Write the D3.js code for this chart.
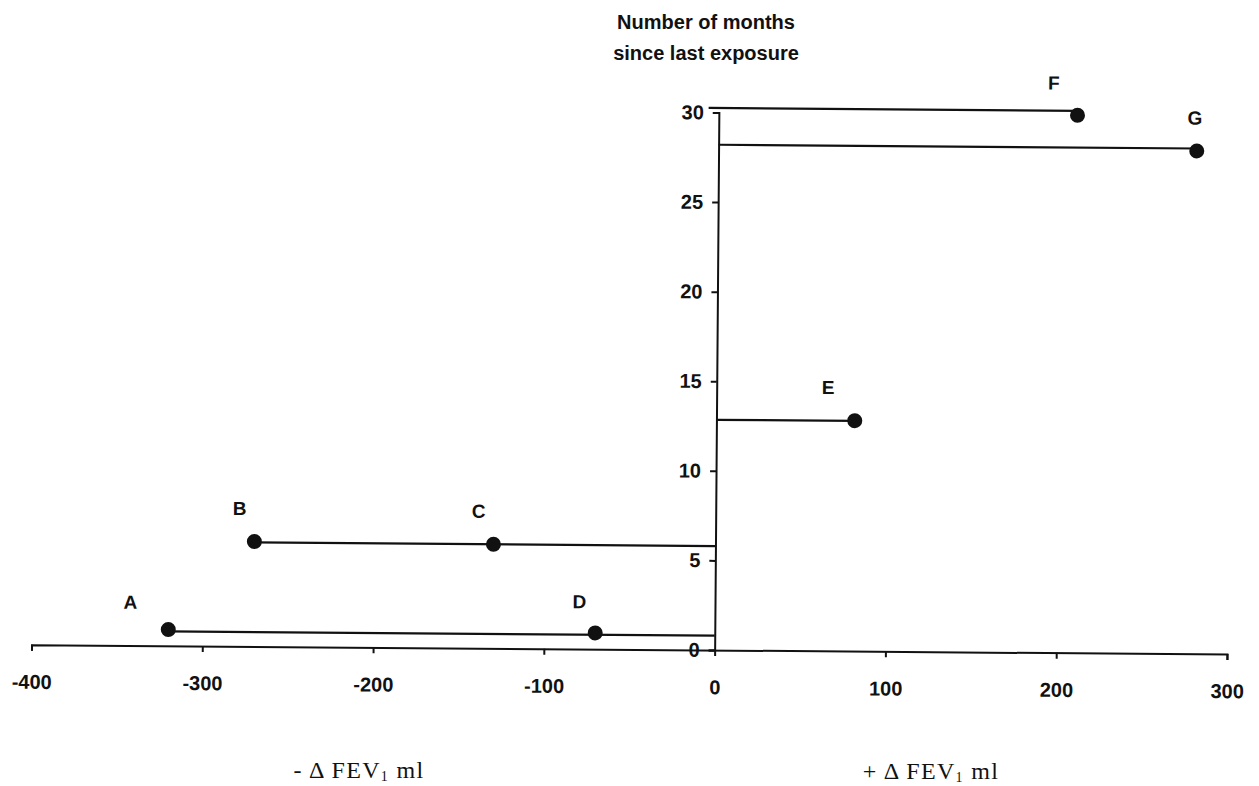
<!DOCTYPE html>
<html>
<head>
<meta charset="utf-8">
<script src="https://cdn.jsdelivr.net/npm/d3@7"></script>
<style>
  html, body { margin: 0; padding: 0; background: #fff; }
  svg { display: block; }
  .tick text { font-family: "Liberation Sans", Arial, sans-serif; font-weight: bold; font-size: 20px; fill: #111; }
</style>
</head>
<body>
<svg id="chart" width="1259" height="786"></svg>
<script>
// ---- data ----
const xTicks = [-400, -300, -200, -100, 0, 100, 200, 300];
const yTicks = [0, 5, 10, 15, 20, 25, 30];
const pointLabels = ["A", "B", "C", "D", "E", "F", "G"];
const pointDelta  = [-320, -270, -130, -70, 81, 210, 280];      // Δ FEV1 ml
const pointMonths = [0.9, 5.85, 5.8, 0.9, 12.86, 30.0, 28.06];  // months since last exposure
const segFrom   = [0, 0, 0, -6, 0];
const segTo     = [-320, -270, 81, 210, 280];
const segMonths = [0.8, 5.8, 12.85, 30.25, 28.2];
const titleLines = ["Number of months", "since last exposure"];

// ---- layout (pixels) ----
const labelDx = [-38, -15, -15, -16, -27, -24, -2];
const labelDy = [-27, -33, -33, -31, -33, -32, -33];

const svg = d3.select("#chart");
const x = d3.scaleLinear().domain([-400, 300]).range([31.5, 1227]);
const y = d3.scaleLinear().domain([0, 30]).range([650, 112.5]);
const fmt = d => String(d);

// slight scan tilt
const g = svg.append("g").attr("transform", "rotate(0.45," + x(0) + "," + y(0) + ")");

const xAxis = g.append("g")
  .attr("transform", "translate(0," + y(0) + ")")
  .call(d3.axisBottom(x).tickValues(xTicks).tickSize(6).tickPadding(24).tickFormat(fmt));
const yAxis = g.append("g")
  .attr("transform", "translate(" + x(0) + ",0)")
  .call(d3.axisLeft(y).tickValues(yTicks).tickSize(6).tickPadding(9).tickFormat(fmt));
[xAxis, yAxis].forEach(a => {
  a.select(".domain").attr("stroke", "#111").attr("stroke-width", 2);
  a.selectAll(".tick line").attr("stroke", "#111").attr("stroke-width", 2);
});

// horizontal segments
g.selectAll("line.seg").data(segTo.map((t, i) => ({ from: segFrom[i], to: t, m: segMonths[i] })))
  .enter().append("line").attr("class", "seg")
  .attr("x1", d => x(d.from)).attr("x2", d => x(d.to))
  .attr("y1", d => y(d.m)).attr("y2", d => y(d.m))
  .attr("stroke", "#111").attr("stroke-width", 2.2);

const pts = pointLabels.map((l, i) => ({ l, dx: pointDelta[i], m: pointMonths[i], i }));
g.selectAll("circle.pt").data(pts).enter().append("circle")
  .attr("cx", d => x(d.dx)).attr("cy", d => y(d.m)).attr("r", 7.5).attr("fill", "#111");
g.selectAll("text.pl").data(pts).enter().append("text")
  .attr("x", d => x(d.dx) + labelDx[d.i]).attr("y", d => y(d.m) + labelDy[d.i])
  .attr("text-anchor", "middle").attr("dominant-baseline", "central")
  .style("font-family", "'Liberation Sans', Arial, sans-serif").style("font-weight", "bold")
  .style("font-size", "19px").attr("fill", "#111").text(d => d.l);

// title
svg.append("g").selectAll("text").data(titleLines).enter().append("text")
  .attr("x", 706).attr("y", (d, i) => 29 + i * 31)
  .attr("text-anchor", "middle")
  .style("font-family", "'Liberation Sans', Arial, sans-serif").style("font-weight", "bold")
  .style("font-size", "20px").attr("fill", "#111").text(d => d);

// bottom axis captions
function caption(cx, cy, sign) {
  const t = svg.append("text").attr("x", cx).attr("y", cy).attr("text-anchor", "middle")
    .style("font-family", "'Liberation Serif', 'Times New Roman', serif")
    .style("font-size", "24px").style("letter-spacing", "1.3px").attr("fill", "#111");
  t.append("tspan").text(sign + " \u0394 FEV");
  t.append("tspan").attr("dy", 3).style("font-size", "14px").text("1");
  t.append("tspan").attr("dy", -3).text(" ml");
}
caption(359, 778, "-");
caption(931, 779, "+");
</script>
</body>
</html>
